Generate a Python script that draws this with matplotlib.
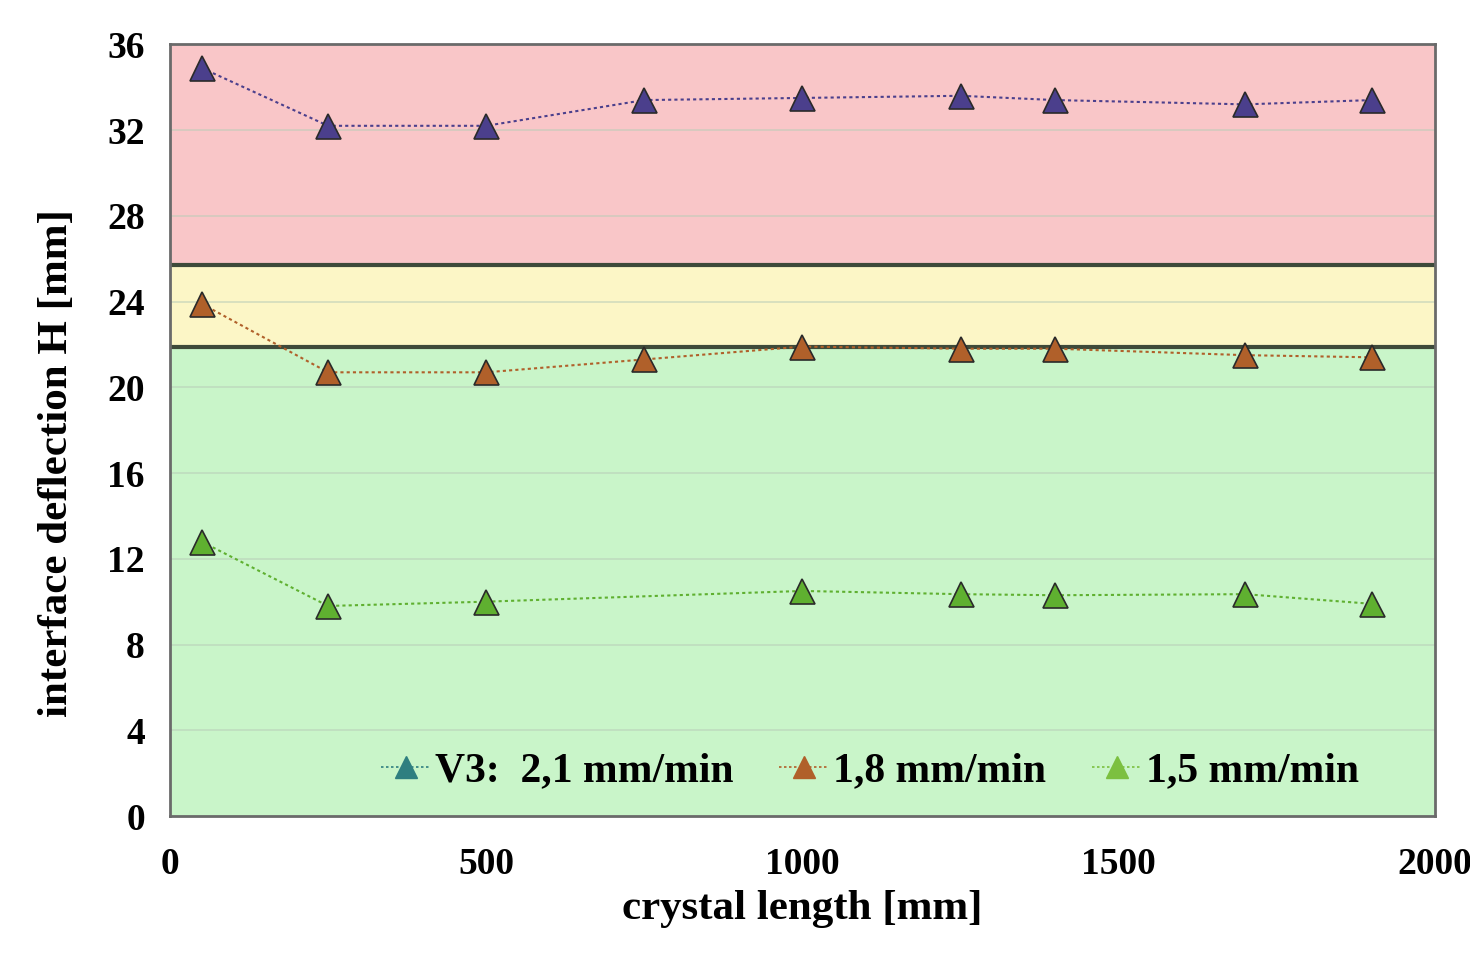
import matplotlib
matplotlib.use("Agg")
import matplotlib.pyplot as plt
from matplotlib.lines import Line2D

# data
x_21 = [50, 250, 500, 750, 1000, 1250, 1400, 1700, 1900]
h_21 = [34.9, 32.2, 32.2, 33.4, 33.5, 33.6, 33.4, 33.2, 33.4]
x_18 = [50, 250, 500, 750, 1000, 1250, 1400, 1700, 1900]
h_18 = [23.9, 20.7, 20.7, 21.3, 21.9, 21.8, 21.8, 21.5, 21.4]
x_15 = [50, 250, 500, 1000, 1250, 1400, 1700, 1900]
h_15 = [12.8, 9.8, 10.0, 10.5, 10.35, 10.3, 10.35, 9.9]
labels = ["V3:  2,1 mm/min", "1,8 mm/min", "1,5 mm/min"]
band_limits = [0, 21.9, 25.7, 36]

plt.rcParams["font.family"] = ["Liberation Serif", "DejaVu Serif"]
plt.rcParams["font.weight"] = "bold"

fig = plt.figure(figsize=(14.7, 9.64), dpi=100)
ax = fig.add_axes([0.1156, 0.1535, 0.8605, 0.8005])

band_colors = ["#c9f5c9", "#fcf6c6", "#f9c6c8"]
for lo, hi, c in zip(band_limits[:-1], band_limits[1:], band_colors):
    ax.axhspan(lo, hi, color=c, zorder=0)
for y in band_limits[1:-1]:
    ax.axhline(y, color="#3e4a3a", lw=3, zorder=2)

for y in range(4, 36, 4):
    ax.axhline(y, color="#b8ccb8", lw=1.2, alpha=0.6, zorder=1)

series = [
    (x_21, h_21, "#4b3f8c"),
    (x_18, h_18, "#b0602a"),
    (x_15, h_15, "#5fb030"),
]
for xs, ys, c in series:
    ax.plot(xs, ys, linestyle=(0, (1.5, 1.5)), color=c, lw=1.5, zorder=3)
    ax.plot(xs, ys, linestyle="none", marker="^", markersize=18,
            markerfacecolor=c, markeredgecolor="#2a2a2a", markeredgewidth=1.2, zorder=4)

ax.set_xlim(0, 2000)
ax.set_ylim(0, 36)
ax.set_xticks([0, 500, 1000, 1500, 2000])
ax.set_yticks(range(0, 37, 4))
ax.tick_params(axis="both", labelsize=27, length=0)
ax.tick_params(axis="x", pad=22)
ax.tick_params(axis="y", pad=18)
for lab in ax.get_xticklabels() + ax.get_yticklabels():
    lab.set_fontweight("bold")

for s in ax.spines.values():
    s.set_color("#6a6a6a")
    s.set_linewidth(2)

ax.set_xlabel("crystal length [mm]", fontsize=31, fontweight="bold", labelpad=6)
ax.set_ylabel("interface deflection H [mm]", fontsize=31, fontweight="bold")
ax.yaxis.set_label_coords(-0.074, 0.458)

leg_colors = ["#2f7f80", "#b0602a", "#7cc040"]
handles = [Line2D([], [], color=c, linestyle=(0, (1.5, 1.5)), lw=1.2,
                  marker="^", markersize=16, markerfacecolor=c, markeredgecolor=c)
           for c in leg_colors]
ax.legend(handles, labels, loc="lower right", ncol=3, frameon=False,
          handlelength=1.2, handletextpad=0.1, columnspacing=1.1,
          bbox_to_anchor=(0.97, -0.015), prop={"weight": "bold", "size": 30})

fig.savefig("out.png", dpi=100)
